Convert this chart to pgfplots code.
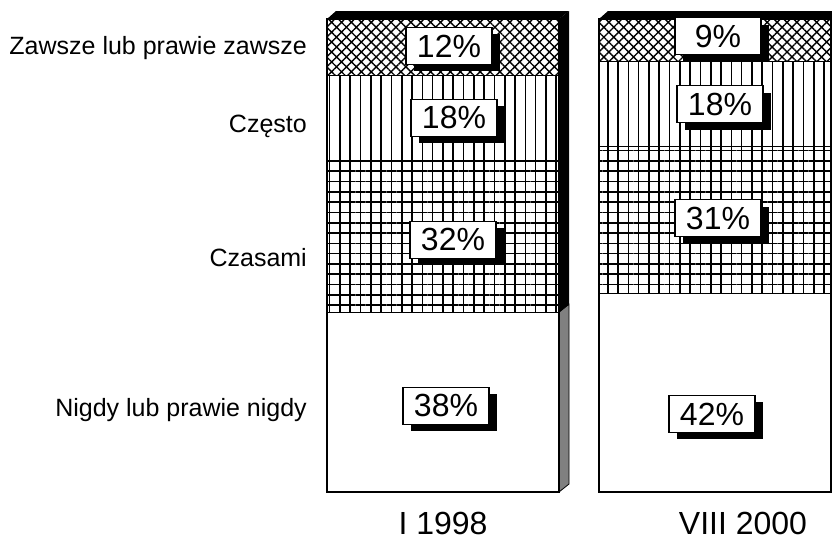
\documentclass[border=0pt]{standalone}
\usepackage{fontspec}
\setmainfont{Liberation Sans}
\usepackage{pgfplots}
\usepackage{pgfplotstable}
\pgfplotsset{compat=1.18}
\usetikzlibrary{patterns.meta,shadows}

% x = bar centre (px), then the four shares in per cent, bottom to top
\pgfplotstableread{
x   nigdy czasami czesto zawsze
443 38    32      18     12
715 42    31      18     9
}\bars

\pgfplotsset{
  pane/.style={scale only axis, width=505pt, height=473pt,
    xmin=327, xmax=832, ymin=0, ymax=100,
    at={(327pt,50pt)}, anchor=south west, clip=false},
  seg/.style={draw=black, line width=1.3pt},
}

\begin{document}
\begin{tikzpicture}
\useasboundingbox (0,0) rectangle (832pt,542pt);
\begin{axis}[
    pane,
    ybar stacked,
    bar width=232pt,
    axis line style={draw=none},
    major tick length=0pt,
    xtick={443,743},
    xticklabels={I 1998, VIII 2000},
    xticklabel style={font=\fontsize{32}{36}\selectfont, anchor=base, inner sep=0pt, yshift=-42pt},
    ytick={15.86,47.57,76.1,92.4},
    yticklabels={Nigdy lub prawie nigdy, Czasami, Często, Zawsze lub prawie zawsze},
    yticklabel style={font=\fontsize{25}{30}\selectfont, anchor=base east, inner sep=0pt, xshift=-20pt},
]
\addplot[seg, fill=white] table[x=x, y=nigdy] {\bars};
\addplot[seg, pattern={Hatch[angle=0, distance=10.3pt, line width=1.6pt]}] table[x=x, y=czasami] {\bars};
\addplot[seg, pattern={Lines[angle=90, distance=10.3pt, line width=1.6pt]}] table[x=x, y=czesto] {\bars};
\addplot[seg, pattern={Hatch[angle=45, distance=7pt, line width=1.4pt]}] table[x=x, y=zawsze] {\bars};

% 3-D edges
\fill[black] (327,100) -- (336,101.69) -- (569,101.69) -- (559,100) -- cycle;
\fill[black] (559,100) -- (569,101.69) -- (569,39.69) -- (559,38) -- cycle;
\filldraw[fill=black!50, draw=black, line width=0.8pt] (559,38) -- (569,39.69) -- (569,1.69) -- (559,0) -- cycle;
\fill[black] (599,100) -- (608,101.69) -- (845,101.69) -- (831,100) -- cycle;
\end{axis}

\begin{axis}[pane, hide axis]
\addplot[draw=none, mark=none, point meta=explicit,
    nodes near coords={\pgfmathprintnumber[assume math mode=true]{\pgfplotspointmeta}\%},
    every node near coord/.append style={anchor=center, draw=black, line width=1.3pt,
      fill=white, minimum width=86pt, minimum height=37pt, inner sep=0pt,
      font=\fontsize{32}{36}\selectfont,
      drop shadow={shadow xshift=8pt, shadow yshift=-7pt, fill=black, opacity=1}},
] coordinates {
  (449,94.3) [12]
  (454,79.1) [18]
  (453,53.3) [32]
  (446,18.2) [38]
  (718,96.4) [9]
  (720,82.0) [18]
  (718,57.9) [31]
  (712,16.5) [42]
};
\end{axis}
\end{tikzpicture}
\end{document}
